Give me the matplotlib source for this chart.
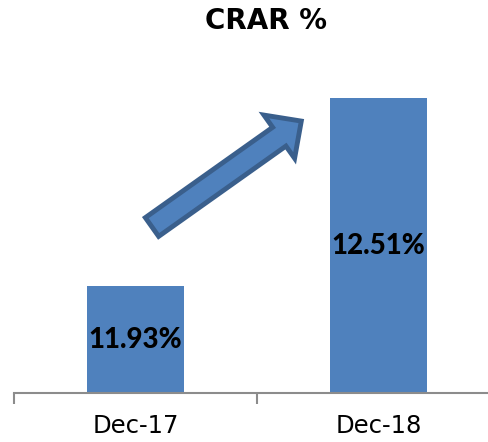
import matplotlib
matplotlib.use("Agg")
import matplotlib.pyplot as plt
from matplotlib.patches import FancyArrow
from matplotlib.ticker import FixedLocator

categories = ["Dec-17", "Dec-18"]
values = [11.93, 12.51]
labels = ["11.93%", "12.51%"]
title = "CRAR %"

plt.rcParams['font.family'] = ['DejaVu Sans']

fig = plt.figure(figsize=(4.89, 4.42), dpi=100)
W, H = 489, 442
ax = fig.add_axes([14 / W, (H - 393) / H, (500 - 14) / W, (393 - 69) / H])
x = list(range(len(categories)))
ax.bar(x, values, width=0.4, color="#4F81BD", zorder=2)
ax.set_xlim(-0.5, 1.5)
ax.set_ylim(11.6, 12.6)
ax.set_yticks([])
for s in ["top", "right", "left"]:
    ax.spines[s].set_visible(False)
ax.spines["bottom"].set_color("#8C8C8C")
ax.spines["bottom"].set_linewidth(1.5)
ax.set_xticks(x)
ax.set_xticklabels(categories, fontsize=17.5, color="black")
ax.tick_params(axis="x", which="major", length=0, pad=15)
ax.xaxis.set_minor_locator(FixedLocator([-0.5, 0.5, 1.5]))
ax.tick_params(axis="x", which="minor", length=8, width=1.5, color="#8C8C8C", direction="out")

for xi, v, lab in zip(x, values, labels):
    ax.text(xi, (v + 11.6) / 2, lab, ha="center", va="center",
            fontsize=20, fontweight="black", color="black", zorder=3,
            family=["Lato", "DejaVu Sans"])

fig.text(266 / W, 1 - 21 / H, title, ha="center", va="center",
         fontsize=20, fontweight="bold")

arrow = FancyArrow(1.52, 2.15, 1.48 * 0.86, 1.05 * 0.86, width=0.23,
                   head_width=0.53, head_length=0.27,
                   length_includes_head=False, transform=fig.dpi_scale_trans,
                   facecolor="#4F81BD", edgecolor="#3A5F8C", linewidth=3.5, zorder=5)
fig.add_artist(arrow)

fig.savefig("out.png", dpi=100)
